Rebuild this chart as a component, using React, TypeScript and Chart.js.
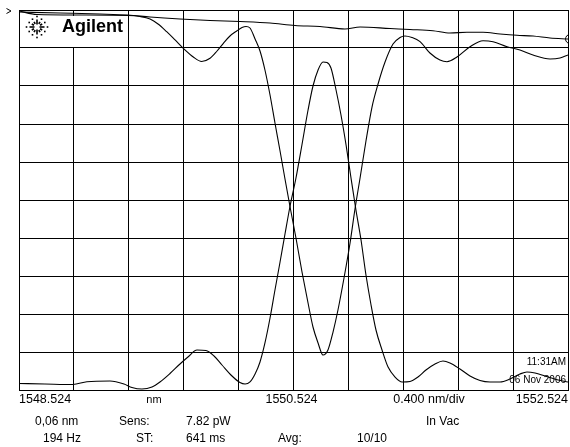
import React, { useEffect, useRef } from "react";
import { Chart, registerables } from "chart.js";

Chart.register(...registerables);

// ---- Axis definition (nm) ----
const startWavelength = 1548.524;
const stopWavelength = 1552.524;
const nmPerDiv = 0.4;
const xGridTicks = [
  1548.524, 1548.924, 1549.324, 1549.724, 1550.124, 1550.524,
  1550.924, 1551.324, 1551.724, 1552.124, 1552.524,
];
const yGridTicks = [0, 1, 2, 3, 4, 5, 6, 7, 8, 9, 10]; // divisions

// ---- Trace A (flat top trace) ----
const traceAWl = [
  1548.524, 1548.823, 1549.114, 1549.318, 1549.479, 1549.697, 1549.916, 1550.134,
  1550.353, 1550.535, 1550.717, 1550.899, 1551.009, 1551.227, 1551.373, 1551.540,
  1551.664, 1551.788, 1551.905, 1552.029, 1552.152, 1552.269, 1552.393, 1552.524,
];
const traceALevel = [
  9.947, 9.921, 9.895, 9.868, 9.816, 9.763, 9.724, 9.697,
  9.658, 9.592, 9.566, 9.500, 9.553, 9.513, 9.487, 9.455,
  9.395, 9.413, 9.413, 9.368, 9.334, 9.316, 9.263, 9.237,
];

// ---- Trace B (through port) ----
const traceBWl = [
  1548.524, 1548.655, 1548.968, 1549.318, 1549.406, 1549.479, 1549.537, 1549.600,
  1549.661, 1549.721, 1549.794, 1549.855, 1549.916, 1549.967, 1550.013, 1550.061,
  1550.110, 1550.149, 1550.178, 1550.207, 1550.244, 1550.280, 1550.316, 1550.353,
  1550.389, 1550.426, 1550.462, 1550.499, 1550.542, 1550.586, 1550.630, 1550.666,
  1550.703, 1550.739, 1550.775, 1550.812, 1550.848, 1550.892, 1550.936, 1550.972,
  1551.009, 1551.052, 1551.096, 1551.140, 1551.191, 1551.249, 1551.300, 1551.336,
  1551.387, 1551.446, 1551.518, 1551.591, 1551.642, 1551.715, 1551.810, 1551.905,
  1551.978, 1552.080, 1552.174, 1552.269, 1552.393, 1552.466, 1552.524,
];
const traceBLevel = [
  9.974, 9.882, 9.868, 9.855, 9.829, 9.763, 9.632, 9.429,
  9.211, 8.992, 8.763, 8.645, 8.729, 8.921, 9.124, 9.316,
  9.447, 9.539, 9.566, 9.526, 9.237, 8.921, 8.421, 7.763,
  7.026, 6.289, 5.553, 4.816, 4.000, 3.105, 2.289, 1.658,
  1.237, 0.921, 1.053, 1.526, 2.105, 2.947, 3.868, 4.763,
  5.579, 6.553, 7.447, 8.053, 8.632, 9.105, 9.276, 9.316,
  9.276, 9.166, 8.868, 8.684, 8.639, 8.763, 9.034, 9.192,
  9.166, 9.034, 8.947, 8.816, 8.711, 8.737, 8.816,
];

// ---- Trace C (drop port) ----
const traceCWl = [
  1548.524, 1548.713, 1548.917, 1549.019, 1549.187, 1549.289, 1549.347, 1549.420,
  1549.493, 1549.551, 1549.624, 1549.697, 1549.755, 1549.821, 1549.886, 1549.945,
  1550.003, 1550.076, 1550.134, 1550.171, 1550.207, 1550.244, 1550.280, 1550.316,
  1550.353, 1550.389, 1550.426, 1550.462, 1550.499, 1550.542, 1550.586, 1550.630,
  1550.666, 1550.703, 1550.739, 1550.768, 1550.797, 1550.834, 1550.870, 1550.907,
  1550.943, 1550.979, 1551.016, 1551.052, 1551.089, 1551.125, 1551.169, 1551.213,
  1551.264, 1551.315, 1551.373, 1551.431, 1551.489, 1551.555, 1551.613, 1551.664,
  1551.737, 1551.810, 1551.883, 1551.956, 1552.029, 1552.101, 1552.174, 1552.225,
  1552.284, 1552.356, 1552.437, 1552.524,
];
const traceCLevel = [
  0.171, 0.158, 0.145, 0.218, 0.237, 0.158, 0.066, 0.026,
  0.079, 0.211, 0.434, 0.684, 0.868, 1.053, 1.039, 0.895,
  0.658, 0.368, 0.197, 0.158, 0.211, 0.421, 0.737, 1.237,
  1.895, 2.632, 3.368, 4.105, 4.842, 5.579, 6.461, 7.368,
  8.000, 8.421, 8.632, 8.618, 8.474, 7.895, 7.237, 6.447,
  5.579, 4.737, 3.947, 3.026, 2.237, 1.579, 1.053, 0.605,
  0.342, 0.211, 0.224, 0.342, 0.526, 0.684, 0.763, 0.711,
  0.553, 0.368, 0.250, 0.211, 0.211, 0.289, 0.421, 0.474,
  0.447, 0.368, 0.276, 0.211,
];

// ---- Annotation texts ----
const axisLabels = ["1548.524", "nm", "1550.524", "0.400 nm/div", "1552.524"];
const infoRow1 = ["0,06 nm", "Sens:", "7.82 pW", "In Vac"];
const infoRow2 = ["194 Hz", "ST:", "641 ms", "Avg:", "10/10"];
const timeStamp = ["11:31AM", "06 Nov 2006"];
const brand = "Agilent";

const FONT = '"Liberation Sans", Arial, sans-serif';

const zip = (xs: number[], ys: number[]) => xs.map((x, i) => ({ x, y: ys[i] }));

const overlayPlugin = {
  id: "osaOverlay",
  beforeDatasetsDraw(chart: any) {
    const ctx = chart.ctx as CanvasRenderingContext2D;
    ctx.save();
    // logo box
    ctx.fillStyle = "#fff";
    ctx.fillRect(20, 16, 108, 31);
    // spark
    ctx.strokeStyle = "#000";
    ctx.fillStyle = "#000";
    const cx = 37, cy = 27;
    ctx.lineWidth = 1.6;
    for (let k = 0; k < 12; k++) {
      const a = (k * Math.PI) / 6;
      const r1 = k % 3 === 0 ? 2.5 : 3.5;
      const r2 = k % 3 === 0 ? 7.5 : 6;
      ctx.beginPath();
      ctx.moveTo(cx + r1 * Math.cos(a), cy + r1 * Math.sin(a));
      ctx.lineTo(cx + r2 * Math.cos(a), cy + r2 * Math.sin(a));
      ctx.stroke();
      const r3 = k % 3 === 0 ? 10.5 : 9;
      ctx.fillRect(cx + r3 * Math.cos(a) - 0.8, cy + r3 * Math.sin(a) - 0.8, 1.6, 1.6);
    }
    ctx.font = `bold 18px ${FONT}`;
    ctx.textBaseline = "alphabetic";
    ctx.textAlign = "left";
    ctx.fillText(brand, 62, 32);
    // time stamp box
    ctx.font = `10px ${FONT}`;
    ctx.textAlign = "right";
    ctx.textBaseline = "middle";
    ctx.fillText(timeStamp[0], 566, 362);
    ctx.fillText(timeStamp[1], 566, 380);
    ctx.restore();
  },
  afterDraw(chart: any) {
    const ctx = chart.ctx as CanvasRenderingContext2D;
    const xs = chart.scales.x;
    ctx.save();
    ctx.fillStyle = "#000";
    ctx.strokeStyle = "#000";
    // reference level marker
    ctx.lineWidth = 1;
    ctx.beginPath();
    ctx.moveTo(6.5, 8.5);
    ctx.lineTo(11, 11);
    ctx.lineTo(6.5, 13.5);
    ctx.stroke();
    // trace end marker
    ctx.beginPath();
    ctx.arc(570, 39, 4.5, 0.6 * Math.PI, 1.4 * Math.PI);
    ctx.stroke();
    // axis labels
    ctx.font = `12.5px ${FONT}`;
    ctx.textBaseline = "middle";
    const y1 = 400;
    ctx.textAlign = "left";
    ctx.fillText(axisLabels[0], xs.getPixelForValue(startWavelength), y1);
    ctx.textAlign = "center";
    ctx.font = `11px ${FONT}`;
    ctx.fillText(axisLabels[1], 154, y1);
    ctx.font = `12.5px ${FONT}`;
    ctx.fillText(axisLabels[2], xs.getPixelForValue((startWavelength + stopWavelength) / 2) - 2, y1);
    ctx.font = `12.5px ${FONT}`;
    ctx.fillText(axisLabels[3], 429, y1);
    ctx.textAlign = "right";
    ctx.fillText(axisLabels[4], xs.getPixelForValue(stopWavelength), y1);
    // info rows
    ctx.font = `12px ${FONT}`;
    ctx.textAlign = "left";
    const r1x = [35, 119, 186, 426];
    infoRow1.forEach((t, i) => ctx.fillText(t, r1x[i], 422));
    const r2x = [43, 136, 186, 278, 357];
    infoRow2.forEach((t, i) => ctx.fillText(t, r2x[i], 439));
    ctx.restore();
  },
};

export default function App() {
  const ref = useRef<HTMLCanvasElement | null>(null);
  useEffect(() => {
    if (!ref.current) return;
    const lineStyle = {
      borderColor: "#000",
      borderWidth: 1.1,
      pointRadius: 0,
      fill: false,
      cubicInterpolationMode: "monotone" as const,
    };
    const chart = new Chart(ref.current, {
      type: "line",
      data: {
        datasets: [
          { label: "A", data: zip(traceAWl, traceALevel), ...lineStyle },
          { label: "B", data: zip(traceBWl, traceBLevel), ...lineStyle },
          { label: "C", data: zip(traceCWl, traceCLevel), ...lineStyle },
        ],
      },
      options: {
        animation: false,
        responsive: false,
        devicePixelRatio: 1,
        layout: { padding: { left: 19, top: 10, right: 2, bottom: 57 } },
        plugins: { legend: { display: false }, tooltip: { enabled: false } },
        scales: {
          x: {
            type: "linear",
            min: startWavelength,
            max: stopWavelength,
            afterBuildTicks: (s: any) => {
              s.ticks = xGridTicks.map((v) => ({ value: v }));
            },
            afterFit: (s: any) => {
              s.height = 0;
            },
            ticks: { display: false, stepSize: nmPerDiv },
            grid: { color: "#000", lineWidth: 1, drawTicks: false },
            border: { display: true, color: "#000", width: 1 },
          },
          y: {
            type: "linear",
            min: 0,
            max: 10,
            afterBuildTicks: (s: any) => {
              s.ticks = yGridTicks.map((v) => ({ value: v }));
            },
            afterFit: (s: any) => {
              s.width = 0;
            },
            ticks: { display: false },
            grid: { color: "#000", lineWidth: 1, drawTicks: false },
            border: { display: true, color: "#000", width: 1 },
          },
        },
      },
      plugins: [overlayPlugin],
    });
    return () => chart.destroy();
  }, []);
  return (
    <div
      style={{
        position: "fixed",
        left: 0,
        top: 0,
        width: 570,
        height: 447,
        background: "#fff",
      }}
    >
      <canvas ref={ref} width={570} height={447} style={{ display: "block" }} />
    </div>
  );
}
